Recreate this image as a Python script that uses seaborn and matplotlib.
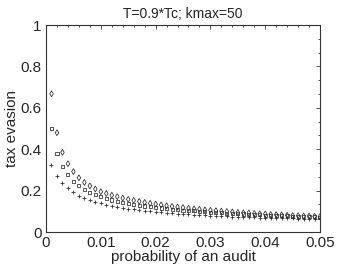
import numpy as np
import pandas as pd
import matplotlib
matplotlib.use("Agg")
import matplotlib.pyplot as plt
from matplotlib.ticker import MultipleLocator, FixedLocator
import seaborn as sns

prob = [round(0.001 * i, 3) for i in range(1, 51)]

series_diamond = [0.668, 0.480, 0.385, 0.330, 0.292, 0.262, 0.240, 0.223, 0.208, 0.195,
                  0.186, 0.178, 0.171, 0.164, 0.158, 0.153, 0.148, 0.143, 0.139, 0.135,
                  0.131, 0.127, 0.124, 0.121, 0.118, 0.115, 0.112, 0.110, 0.107, 0.105,
                  0.103, 0.101, 0.099, 0.097, 0.095, 0.093, 0.092, 0.090, 0.088, 0.087,
                  0.085, 0.084, 0.083, 0.081, 0.080, 0.079, 0.078, 0.077, 0.076, 0.075]
series_square = [0.500, 0.380, 0.318, 0.279, 0.246, 0.224, 0.207, 0.193, 0.181, 0.171,
                 0.162, 0.155, 0.149, 0.143, 0.138, 0.134, 0.130, 0.126, 0.122, 0.119,
                 0.116, 0.113, 0.110, 0.108, 0.106, 0.104, 0.102, 0.100, 0.098, 0.096,
                 0.094, 0.093, 0.091, 0.090, 0.088, 0.087, 0.086, 0.084, 0.083, 0.082,
                 0.081, 0.080, 0.079, 0.078, 0.077, 0.076, 0.075, 0.074, 0.073, 0.072]
series_plus = [0.325, 0.270, 0.235, 0.211, 0.192, 0.176, 0.165, 0.155, 0.146, 0.139,
               0.133, 0.127, 0.122, 0.117, 0.113, 0.110, 0.106, 0.103, 0.100, 0.098,
               0.095, 0.093, 0.091, 0.089, 0.087, 0.085, 0.084, 0.082, 0.081, 0.079,
               0.078, 0.077, 0.076, 0.075, 0.074, 0.073, 0.072, 0.071, 0.070, 0.069,
               0.068, 0.068, 0.067, 0.066, 0.066, 0.065, 0.064, 0.064, 0.063, 0.063]

x_ticks = [0, 0.01, 0.02, 0.03, 0.04, 0.05]
x_tick_labels = ["0", "0.01", "0.02", "0.03", "0.04", "0.05"]
y_ticks = [0, 0.2, 0.4, 0.6, 0.8, 1.0]
y_tick_labels = ["0", "0.2", "0.4", "0.6", "0.8", "1"]

sns.set_style("white")
plt.rcParams['font.family'] = ['Liberation Sans', 'DejaVu Sans']

fig = plt.figure(figsize=(3.54, 2.67), dpi=100)
ax = fig.add_axes([0.130, 0.131, 0.774, 0.775])

ec = "#2a2a2a"
sns.scatterplot(x=prob, y=series_diamond, marker="d", s=9, facecolor="none",
                edgecolor=ec, linewidth=0.55, ax=ax)
sns.scatterplot(x=prob, y=series_square, marker="s", s=5, facecolor="none",
                edgecolor=ec, linewidth=0.55, ax=ax)
sns.scatterplot(x=prob, y=series_plus, marker="+", s=8, color=ec,
                linewidth=0.55, ax=ax)

ax.set_xlim(0, 0.05)
ax.set_ylim(0, 1)
ax.set_xticks(x_ticks)
ax.set_xticklabels(x_tick_labels)
ax.set_yticks(y_ticks)
ax.set_yticklabels(y_tick_labels)
ax.xaxis.set_minor_locator(MultipleLocator(0.002))
ax.yaxis.set_minor_locator(FixedLocator([i * 0.2 / 3 for i in range(16)]))

for s in ax.spines.values():
    s.set_visible(True)
    s.set_color("#333333")
    s.set_linewidth(0.8)

ax.tick_params(which="both", direction="in", top=True, right=True,
               color="#333333", width=0.6, labelsize=11, pad=3)
ax.tick_params(which="major", length=3)
ax.tick_params(which="minor", length=1.5)

ax.set_xlabel("probability of an audit", fontsize=11, labelpad=0)
ax.set_ylabel("tax evasion", fontsize=11, labelpad=1)
ax.set_title("T=0.9*Tc; kmax=50", fontsize=10, pad=5)

fig.savefig("out.png", dpi=100)
